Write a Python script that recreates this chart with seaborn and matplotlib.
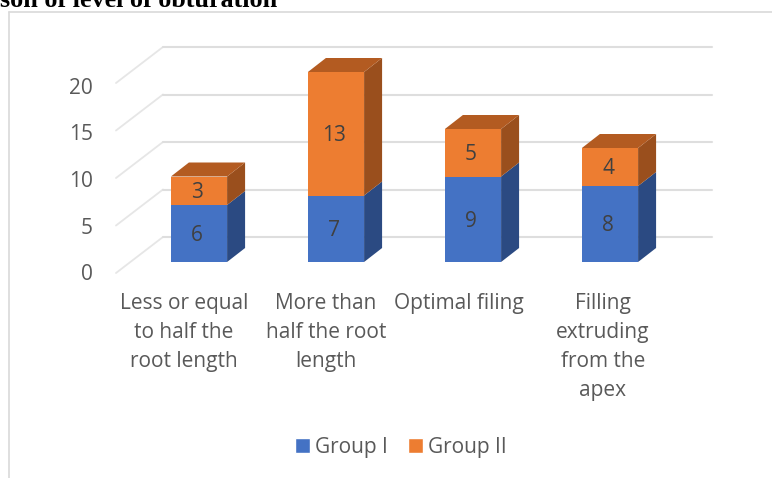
import matplotlib
matplotlib.use("Agg")
import matplotlib.pyplot as plt
import seaborn as sns
from matplotlib.lines import Line2D
from matplotlib.patches import Patch, Polygon
from matplotlib.transforms import ScaledTranslation

categories = ["Less or equal\nto half the\nroot length",
              "More than\nhalf the root\nlength",
              "Optimal filing",
              "Filling\nextruding\nfrom the\napex"]
group_1 = [6, 7, 9, 8]
group_2 = [3, 13, 5, 4]
y_ticks = [0, 5, 10, 15, 20]
series_names = ["Group I", "Group II"]

BLUE, ORANGE = "#4472C4", "#ED7D31"
BLUE_SIDE, ORANGE_SIDE, ORANGE_TOP = "#2B4A82", "#9A4F1D", "#B35B21"
GRID, DIAG, FRAME, TEXT, LABEL = "#DEDEDE", "#E6E6E6", "#D9D9D9", "#595959", "#404040"
W, H, DPI = 772, 478, 100
FS = 15

sns.set_style("white")
plt.rcParams["font.family"] = ["Open Sans", "DejaVu Sans"]

fig = plt.figure(figsize=(W / DPI, H / DPI), dpi=DPI)
# axes: 137 px per category centred at 199 px; 9.5 px per unit with zero at y=262 px
ax = fig.add_axes([130.5 / W, (H - 262) / H, 548 / W, 190 / H])

x_pos = list(range(len(categories)))
bar_w = 0.41
sns.barplot(x=x_pos, y=group_1, color=BLUE, saturation=1, width=bar_w,
            ax=ax, zorder=3, linewidth=0)
sns.barplot(x=x_pos, y=group_2, bottom=group_1, color=ORANGE, saturation=1,
            width=bar_w, ax=ax, zorder=3, linewidth=0)
ax.set_xlim(-0.5, 3.5)
ax.set_ylim(0, 20)
ax.patch.set_visible(False)
for s in ax.spines.values():
    s.set_visible(False)

# depth of the fake 3D box, in data units
dx, dy = 18 / 137, 14 / 9.5
wall_dy = 25 / 9.5
for v in y_ticks:
    ax.plot([-0.606, -0.263], [v - 1.16, v + wall_dy], color=DIAG, lw=1.3, zorder=1, clip_on=False)
    ax.plot([-0.263, 3.745], [v + wall_dy, v + wall_dy], color=GRID, lw=1.5, zorder=1, clip_on=False)

for x, a, b in zip(x_pos, group_1, group_2):
    r = x + bar_w / 2
    l = x - bar_w / 2
    t = a + b
    ax.add_patch(Polygon([(r, 0), (r + dx, dy), (r + dx, a + dy), (r, a)],
                         fc=BLUE_SIDE, ec="none", zorder=2, clip_on=False))
    ax.add_patch(Polygon([(r, a), (r + dx, a + dy), (r + dx, t + dy), (r, t)],
                         fc=ORANGE_SIDE, ec="none", zorder=2, clip_on=False))
    ax.add_patch(Polygon([(l, t), (l + dx, t + dy), (r + dx, t + dy), (r, t)],
                         fc=ORANGE_TOP, ec="none", zorder=2, clip_on=False))

for c in ax.containers:
    for ann in ax.bar_label(c, label_type="center", fontsize=FS, color=LABEL, zorder=5):
        ann.xyann = (-1.4, -1.4)

ax.set_xlabel("")
ax.set_ylabel("")
ax.set_xticks(x_pos)
ax.set_xticklabels(categories, fontsize=FS, color=TEXT, linespacing=1.5, va="top", ha="center")
ax.set_yticks(y_ticks)
ax.set_yticklabels([str(v) for v in y_ticks], fontsize=FS, color=TEXT)
ax.tick_params(axis="x", length=0, pad=22)
ax.tick_params(axis="y", length=0, pad=27)

for lab, off in zip(ax.get_xticklabels(), [-15, -10, -14, -7]):
    lab.set_transform(lab.get_transform() + ScaledTranslation(off / DPI, 0, fig.dpi_scale_trans))
for lab, off in zip(ax.get_yticklabels(), [-10.5, -11, -12, -13, -13.5]):
    lab.set_transform(lab.get_transform() + ScaledTranslation(0, off / DPI, fig.dpi_scale_trans))

handles = [Patch(fc=BLUE, label=series_names[0]), Patch(fc=ORANGE, label=series_names[1])]
fig.legend(handles=handles, loc="center", bbox_to_anchor=(401 / W, (H - 447) / H),
           ncol=2, frameon=False, fontsize=FS, labelcolor=TEXT, handlelength=0.72,
           handleheight=0.72, handletextpad=0.24, columnspacing=1.0)

# chart frame and clipped heading of the surrounding page
fig.add_artist(Line2D([9 / W, 9 / W], [0, (H - 12) / H], color=FRAME, lw=1.2))
fig.add_artist(Line2D([9 / W, 1], [(H - 12) / H] * 2, color=FRAME, lw=1.2))
fig.text(0 / W, (H - 7) / H, "son of level of obturation", family="Liberation Serif",
         weight="bold", fontsize=18.8, color="black", ha="left", va="baseline")

fig.savefig("out.png", dpi=DPI, facecolor="white")
